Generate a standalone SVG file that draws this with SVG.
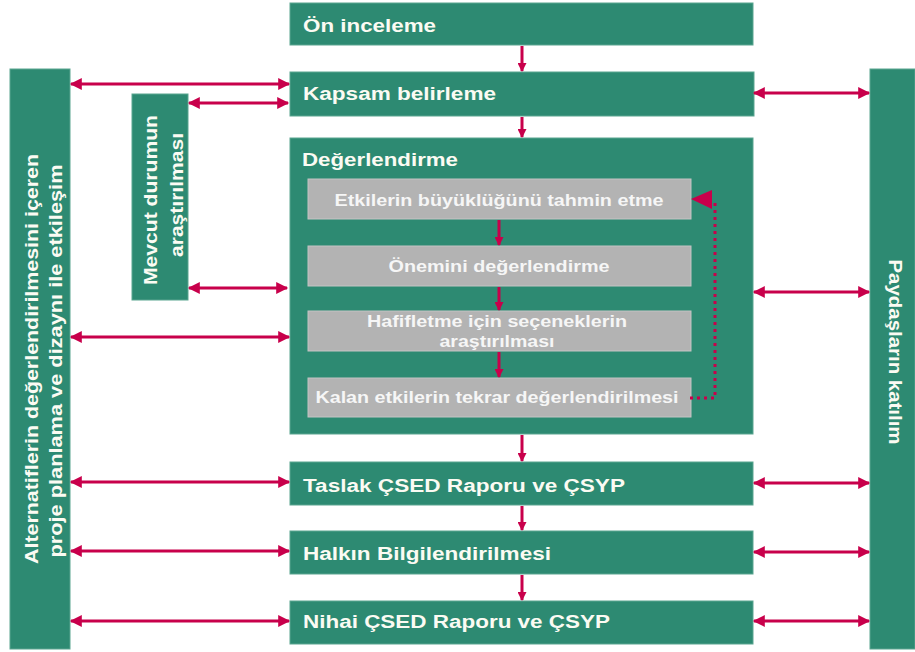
<svg xmlns="http://www.w3.org/2000/svg" width="915" height="652" viewBox="0 0 915 652">
<defs>
<style>
.g{fill:#2d8a72;stroke:#5aa590;stroke-width:1}
.gr{fill:#b3b3b3;stroke:#c4c4c4;stroke-width:1}
.t{font-family:"Liberation Sans",Arial,sans-serif;font-weight:bold;font-size:18px;fill:#fbfbf3}
.tg{font-family:"Liberation Sans",Arial,sans-serif;font-weight:bold;font-size:16px;fill:#f6f6f6;text-anchor:middle}
.a{stroke:#c8004b;stroke-width:3;fill:none}
.d{stroke:#c8004b;stroke-width:3;fill:none;stroke-dasharray:3 4}
</style>
<marker id="ah" viewBox="0 0 10 10" refX="9" refY="5" markerUnits="userSpaceOnUse" markerWidth="14" markerHeight="12" orient="auto-start-reverse">
<path d="M0,0 L10,5 L0,10 z" fill="#c8004b"/>
</marker>
<marker id="av" viewBox="0 0 10 10" refX="9" refY="5" markerUnits="userSpaceOnUse" markerWidth="10" markerHeight="9" orient="auto">
<path d="M0,0 L10,5 L0,10 z" fill="#c8004b"/>
</marker>
</defs>
<rect width="915" height="652" fill="#ffffff"/>

<g id="left">
<rect class="g" x="10" y="69" width="60" height="580"/>
<text class="t" transform="translate(38,359) rotate(-90)" text-anchor="middle" textLength="410" lengthAdjust="spacingAndGlyphs">Alternatiflerin değerlendirilmesini içeren</text>
<text class="t" transform="translate(62,361) rotate(-90)" text-anchor="middle" textLength="393" lengthAdjust="spacingAndGlyphs">proje planlama ve dizaynı ile etkileşim</text>
</g>

<g id="mevcut">
<rect class="g" x="132" y="94" width="56" height="206"/>
<text class="t" transform="translate(157,200) rotate(-90)" text-anchor="middle" textLength="170" lengthAdjust="spacingAndGlyphs">Mevcut durumun</text>
<text class="t" transform="translate(183,195) rotate(-90)" text-anchor="middle" textLength="124" lengthAdjust="spacingAndGlyphs">araştırılması</text>
</g>

<g id="right">
<rect class="g" x="870" y="69" width="45" height="580"/>
<text class="t" transform="translate(889,352) rotate(90)" text-anchor="middle" textLength="185" lengthAdjust="spacingAndGlyphs">Paydaşların katılım</text>
</g>

<g id="on-inceleme">
<rect class="g" x="290" y="3" width="463" height="42"/>
<text class="t" x="303" y="32" textLength="133" lengthAdjust="spacingAndGlyphs">Ön inceleme</text>
</g>

<g id="kapsam">
<rect class="g" x="290" y="72" width="464" height="44"/>
<text class="t" x="303" y="100" textLength="193" lengthAdjust="spacingAndGlyphs">Kapsam belirleme</text>
</g>

<g id="degerlendirme">
<rect class="g" x="290" y="138" width="463" height="296"/>
<text class="t" x="302" y="166" textLength="156" lengthAdjust="spacingAndGlyphs">Değerlendirme</text>
</g>

<g id="etkilerin">
<rect class="gr" x="308" y="179" width="383" height="40"/>
<text class="tg" x="499" y="206" textLength="329" lengthAdjust="spacingAndGlyphs">Etkilerin büyüklüğünü tahmin etme</text>
</g>

<g id="onemini">
<rect class="gr" x="308" y="246" width="383" height="40"/>
<text class="tg" x="499" y="272" textLength="221" lengthAdjust="spacingAndGlyphs">Önemini değerlendirme</text>
</g>

<g id="hafifletme">
<rect class="gr" x="308" y="311" width="383" height="40"/>
<text class="tg" x="497" y="327" textLength="260" lengthAdjust="spacingAndGlyphs">Hafifletme için seçeneklerin</text>
<text class="tg" x="497" y="347" textLength="115" lengthAdjust="spacingAndGlyphs">araştırılması</text>
</g>

<g id="kalan">
<rect class="gr" x="308" y="378" width="383" height="39"/>
<text class="tg" x="497" y="403" textLength="363" lengthAdjust="spacingAndGlyphs">Kalan etkilerin tekrar değerlendirilmesi</text>
</g>

<g id="taslak">
<rect class="g" x="290" y="462" width="463" height="43"/>
<text class="t" x="303" y="492" textLength="322" lengthAdjust="spacingAndGlyphs">Taslak ÇSED Raporu ve ÇSYP</text>
</g>

<g id="halkin">
<rect class="g" x="290" y="531" width="463" height="43"/>
<text class="t" x="303" y="560" textLength="248" lengthAdjust="spacingAndGlyphs">Halkın Bilgilendirilmesi</text>
</g>

<g id="nihai">
<rect class="g" x="290" y="601" width="463" height="43"/>
<text class="t" x="303" y="628" textLength="307" lengthAdjust="spacingAndGlyphs">Nihai ÇSED Raporu ve ÇSYP</text>
</g>

<g id="connectors">
<line class="a" x1="522" y1="46" x2="522" y2="71" marker-end="url(#av)"/>
<line class="a" x1="522" y1="117" x2="522" y2="137" marker-end="url(#av)"/>
<line class="a" x1="522" y1="435" x2="522" y2="461" marker-end="url(#av)"/>
<line class="a" x1="522" y1="506" x2="522" y2="530" marker-end="url(#av)"/>
<line class="a" x1="522" y1="575" x2="522" y2="600" marker-end="url(#av)"/>
<line class="a" x1="499" y1="220" x2="499" y2="245" marker-end="url(#av)"/>
<line class="a" x1="499" y1="287" x2="499" y2="310" marker-end="url(#av)"/>
<line class="a" x1="499" y1="352" x2="499" y2="377" marker-end="url(#av)"/>

<line class="a" x1="71" y1="84" x2="289" y2="84" marker-start="url(#ah)" marker-end="url(#ah)"/>
<line class="a" x1="189" y1="103" x2="288" y2="103" marker-start="url(#ah)" marker-end="url(#ah)"/>
<line class="a" x1="189" y1="288" x2="287" y2="288" marker-start="url(#ah)" marker-end="url(#ah)"/>
<line class="a" x1="71" y1="337" x2="289" y2="337" marker-start="url(#ah)" marker-end="url(#ah)"/>
<line class="a" x1="71" y1="482" x2="289" y2="482" marker-start="url(#ah)" marker-end="url(#ah)"/>
<line class="a" x1="71" y1="551" x2="289" y2="551" marker-start="url(#ah)" marker-end="url(#ah)"/>
<line class="a" x1="71" y1="621" x2="289" y2="621" marker-start="url(#ah)" marker-end="url(#ah)"/>

<line class="a" x1="754" y1="93" x2="869" y2="93" marker-start="url(#ah)" marker-end="url(#ah)"/>
<line class="a" x1="754" y1="292" x2="869" y2="292" marker-start="url(#ah)" marker-end="url(#ah)"/>
<line class="a" x1="754" y1="483" x2="869" y2="483" marker-start="url(#ah)" marker-end="url(#ah)"/>
<line class="a" x1="754" y1="552" x2="869" y2="552" marker-start="url(#ah)" marker-end="url(#ah)"/>
<line class="a" x1="754" y1="621" x2="869" y2="621" marker-start="url(#ah)" marker-end="url(#ah)"/>

<polyline class="d" points="690,398 715,398 715,202 711,202"/>
<path d="M691,199 L712,190 L712,209 z" fill="#c8004b"/>
</g>
</svg>
